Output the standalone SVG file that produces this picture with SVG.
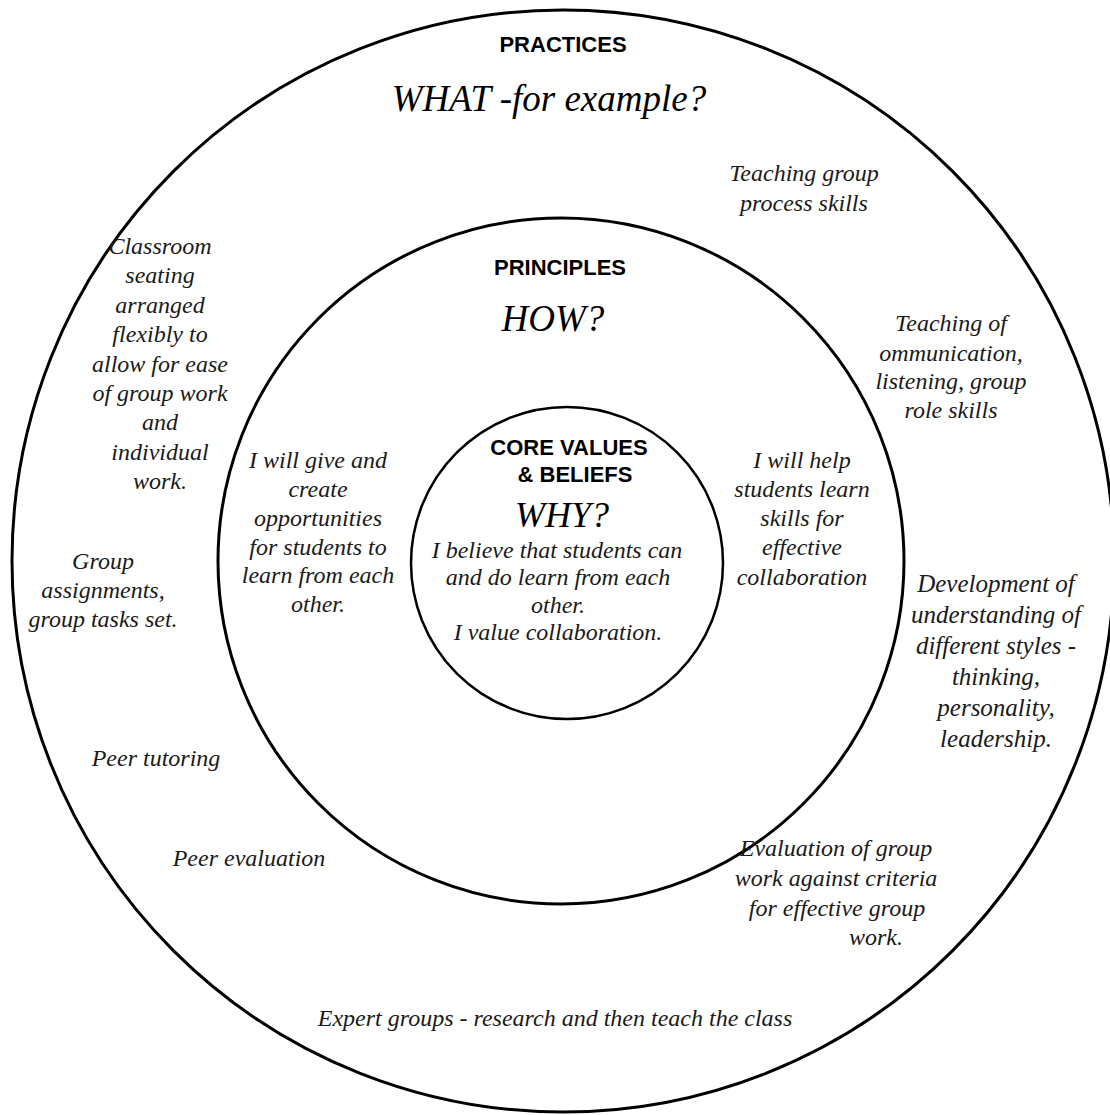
<svg xmlns="http://www.w3.org/2000/svg" width="1110" height="1115" viewBox="0 0 1110 1115">
<style>
.ring{fill:none;stroke:#000;stroke-width:3}
.ring-in{fill:none;stroke:#000;stroke-width:2.5}
.hd{font-family:"Liberation Sans",Arial,sans-serif;font-weight:bold;font-size:22px;fill:#000;text-anchor:middle}
.q{font-family:"Liberation Serif","Times New Roman",serif;font-style:italic;font-size:37px;fill:#000;text-anchor:middle}
.t{font-family:"Liberation Serif","Times New Roman",serif;font-style:italic;font-size:24px;fill:#1a1a1a;text-anchor:middle}
</style>
<rect width="1110" height="1115" fill="#fff"/>
<g id="practices">
<circle class="ring" cx="563" cy="561" r="551"/>
<text class="hd" x="563" y="52">PRACTICES</text>
<text class="q" x="549" y="111">WHAT -for example?</text>
</g>
<g id="principles">
<circle class="ring" cx="561" cy="561" r="343"/>
<text class="hd" x="560" y="275">PRINCIPLES</text>
<text class="q" x="553" y="331">HOW?</text>
</g>
<g id="core-values">
<circle class="ring-in" cx="567" cy="563" r="156"/>
<text class="hd" x="569" y="455">CORE VALUES</text>
<text class="hd" x="575" y="482">&amp; BELIEFS</text>
<text class="q" x="562" y="527" style="font-size:36px">WHY?</text>
<text class="t" x="557"><tspan x="557" y="558">I believe that students can</tspan><tspan x="558" y="585">and do learn from each</tspan><tspan x="558" y="613">other.</tspan><tspan x="558" y="640">I value collaboration.</tspan></text>
</g>
<g id="principle-left">
<text class="t"><tspan x="318" y="468">I will give and</tspan><tspan x="318" y="497">create</tspan><tspan x="318" y="526">opportunities</tspan><tspan x="318" y="555">for students to</tspan><tspan x="318" y="583">learn from each</tspan><tspan x="318" y="612">other.</tspan></text>
</g>
<g id="principle-right">
<text class="t"><tspan x="802" y="468">I will help</tspan><tspan x="802" y="497">students learn</tspan><tspan x="802" y="526">skills for</tspan><tspan x="802" y="555">effective</tspan><tspan x="802" y="585">collaboration</tspan></text>
</g>
<g id="practice-group-process">
<text class="t"><tspan x="804" y="181">Teaching group</tspan><tspan x="804" y="211">process skills</tspan></text>
</g>
<g id="practice-communication">
<text class="t"><tspan x="951" y="331">Teaching of</tspan><tspan x="951" y="361">ommunication,</tspan><tspan x="951" y="389">listening, group</tspan><tspan x="951" y="418">role skills</tspan></text>
</g>
<g id="practice-seating">
<text class="t"><tspan x="160" y="254">Classroom</tspan><tspan x="160" y="283">seating</tspan><tspan x="160" y="313">arranged</tspan><tspan x="160" y="342">flexibly to</tspan><tspan x="160" y="372">allow for ease</tspan><tspan x="160" y="401">of group work</tspan><tspan x="160" y="430">and</tspan><tspan x="160" y="460">individual</tspan><tspan x="160" y="489">work.</tspan></text>
</g>
<g id="practice-assignments">
<text class="t"><tspan x="103" y="569">Group</tspan><tspan x="103" y="598">assignments,</tspan><tspan x="103" y="627">group tasks set.</tspan></text>
</g>
<g id="practice-styles">
<text class="t" style="font-size:25px"><tspan x="996" y="592">Development of</tspan><tspan x="996" y="623">understanding of</tspan><tspan x="996" y="654">different styles -</tspan><tspan x="996" y="685">thinking,</tspan><tspan x="996" y="716">personality,</tspan><tspan x="996" y="747">leadership.</tspan></text>
</g>
<g id="practice-peer-tutoring">
<text class="t" x="156" y="766">Peer tutoring</text>
</g>
<g id="practice-peer-evaluation">
<text class="t" x="249" y="866">Peer evaluation</text>
</g>
<g id="practice-evaluation">
<text class="t"><tspan x="836" y="856">Evaluation of group</tspan><tspan x="836" y="886">work against criteria</tspan><tspan x="837" y="916">for effective group</tspan><tspan x="876" y="945">work.</tspan></text>
</g>
<g id="practice-expert">
<text class="t" x="555" y="1026">Expert groups - research and then teach the class</text>
</g>
<g id="connectors"/>
</svg>
